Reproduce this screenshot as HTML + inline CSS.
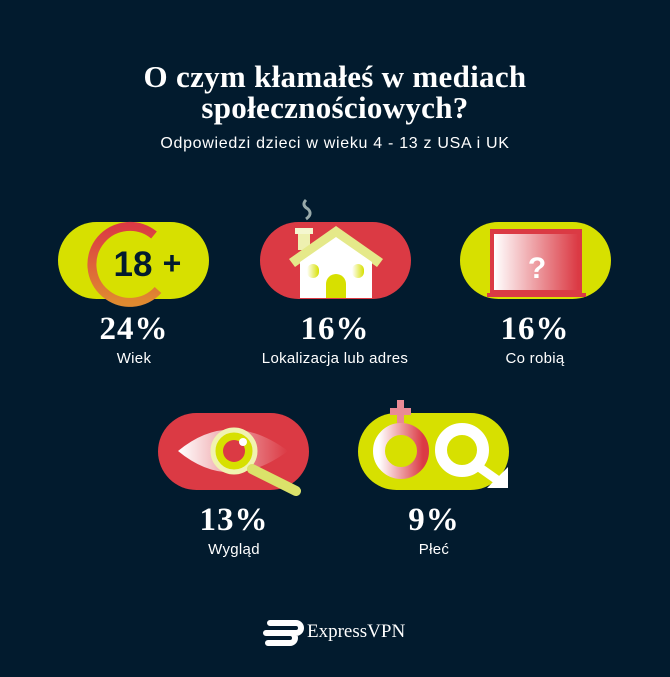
<!DOCTYPE html>
<html><head><meta charset="utf-8"><style>
body{margin:0;width:670px;height:677px;background:#021b2e;position:relative;overflow:hidden;font-family:"Liberation Sans",sans-serif;color:#fff}
.t{position:absolute;left:0;width:670px;text-align:center}
.title{font-family:"Liberation Serif",serif;font-weight:bold;font-size:31px;line-height:31px;top:61px;letter-spacing:0.3px}
.sub{top:135px;font-size:16px;letter-spacing:0.7px}
.pill{position:absolute;width:151px;height:77px;border-radius:39px}
.y{background:#d7e000}.r{background:#db3a44}
.pct{position:absolute;width:200px;text-align:center;font-family:"Liberation Serif",serif;font-weight:bold;font-size:33px;letter-spacing:1px}
.lab{position:absolute;width:200px;text-align:center;font-size:15px;letter-spacing:0.3px}
svg{position:absolute;left:0;top:0}
</style></head><body>
<div class="t title">O czym kłamałeś w mediach<br>społecznościowych?</div>
<div class="t sub">Odpowiedzi dzieci w wieku 4 - 13 z USA i UK</div>

<div class="pill y" style="left:58px;top:222px"></div>
<div class="pill r" style="left:260px;top:222px"></div>
<div class="pill y" style="left:460px;top:222px"></div>
<div class="pill r" style="left:158px;top:413px"></div>
<div class="pill y" style="left:358px;top:413px"></div>

<svg width="670" height="677">
<defs>
<linearGradient id="wr" x1="0" x2="1"><stop offset="0" stop-color="#fff"/><stop offset="1" stop-color="#db3a44"/></linearGradient>
<linearGradient id="wy" x1="0" x2="1"><stop offset="0" stop-color="#fff"/><stop offset="1" stop-color="#d7e000"/></linearGradient>
<linearGradient id="ro" x1="0" y1="0" x2="0" y2="1"><stop offset="0" stop-color="#db3a44"/><stop offset="1" stop-color="#e08a30"/></linearGradient>
</defs>
<!-- 18+ -->
<path d="M154 235 A38 38 0 1 0 158 290" fill="none" stroke="url(#ro)" stroke-width="9"/>
<text x="133" y="276" text-anchor="middle" font-family="Liberation Sans" font-weight="bold" font-size="35" fill="#021b2e">18</text>
<text x="172" y="274" text-anchor="middle" font-family="Liberation Sans" font-weight="bold" font-size="32" fill="#021b2e">+</text>
<!-- house -->
<path d="M306 200 q-5 5 2 9 q5 5 -2 10" stroke="#9aa" stroke-width="3" fill="none"/>
<rect x="298" y="228" width="12" height="22" fill="#eef0b0"/>
<rect x="295" y="228" width="18" height="6" fill="#f5f7d0"/>
<path d="M289 259 L336 226 L383 259 L377 267 L336 238 L295 267Z" fill="#e5e98a"/>
<path d="M300 262 L336 237 L372 262 L372 298 L300 298Z" fill="#fff"/>
<rect x="307" y="264" width="12" height="14" rx="6" fill="url(#wy)"/>
<rect x="352" y="264" width="12" height="14" rx="6" fill="url(#wy)"/>
<path d="M326 298 V284 a10 10 0 0 1 20 0 V298Z" fill="#d7e000"/>
<!-- laptop -->
<rect x="490" y="229" width="92" height="64" fill="#db3a44"/>
<rect x="494" y="234" width="84" height="56" fill="url(#wr)"/>
<rect x="487" y="293" width="99" height="4" fill="#db3a44"/>
<text x="537" y="278" text-anchor="middle" font-family="Liberation Sans" font-weight="bold" font-size="30" fill="#fff">?</text>
<!-- eye -->
<path d="M178 451 Q230 408 288 451 Q230 494 178 451Z" fill="url(#wr)"/>
<circle cx="234" cy="451" r="21" fill="#d7e000" stroke="#f0f3b0" stroke-width="5"/>
<circle cx="234" cy="451" r="11" fill="#db3a44"/>
<circle cx="243" cy="442" r="4" fill="#fff"/>
<line x1="252" y1="469" x2="296" y2="491" stroke="#dbe26a" stroke-width="10" stroke-linecap="round"/>
<!-- gender -->
<rect x="397" y="400" width="7" height="26" fill="#e98a95"/>
<rect x="390" y="408" width="21" height="7" fill="#e98a95"/>
<circle cx="401" cy="451" r="22" fill="none" stroke="url(#wr)" stroke-width="12"/>
<circle cx="462" cy="450" r="21" fill="none" stroke="#fff" stroke-width="12"/>
<line x1="476" y1="465" x2="500" y2="482" stroke="#fff" stroke-width="9"/>
<path d="M487 488 L508 488 L508 467 Z" fill="#fff"/>
<!-- logo -->
<path d="M270 623 h26 a5 5 0 0 1 0 10 h-22 M266 633 h24 a5 5 0 0 1 0 10 h-22" stroke="#fff" stroke-width="6" fill="none" stroke-linecap="round"/>
</svg>

<div class="pct" style="left:34px;top:311px">24%</div><div class="lab" style="left:34px;top:350px">Wiek</div>
<div class="pct" style="left:235px;top:311px">16%</div><div class="lab" style="left:235px;top:350px">Lokalizacja lub adres</div>
<div class="pct" style="left:435px;top:311px">16%</div><div class="lab" style="left:435px;top:350px">Co robią</div>
<div class="pct" style="left:134px;top:502px">13%</div><div class="lab" style="left:134px;top:541px">Wygląd</div>
<div class="pct" style="left:334px;top:502px">9%</div><div class="lab" style="left:334px;top:541px">Płeć</div>
<div style="position:absolute;left:307px;top:621px;font-family:'Liberation Serif',serif;font-size:19px">ExpressVPN</div>
</body></html>
